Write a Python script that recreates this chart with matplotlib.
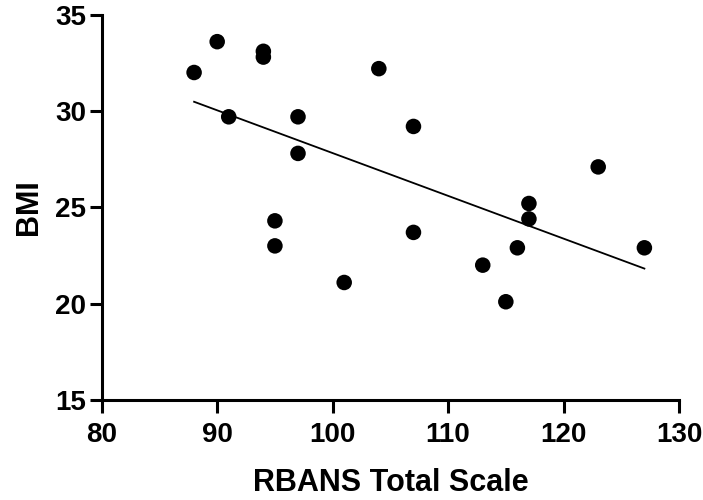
import numpy as np
import matplotlib
matplotlib.use('Agg')
import matplotlib.pyplot as plt

# values
rbans = [88, 90, 91, 94, 94, 95, 95, 97, 97, 101,
         104, 107, 107, 113, 115, 116, 117, 117, 123, 127]
bmi = [32.0, 33.6, 29.7, 33.1, 32.8, 24.3, 23.0, 29.7, 27.8, 21.1,
       32.2, 29.2, 23.7, 22.0, 20.1, 22.9, 25.2, 24.4, 27.1, 22.9]
x_ticks = [80, 90, 100, 110, 120, 130]
y_ticks = [15, 20, 25, 30, 35]

plt.rcParams['font.family'] = ['Liberation Sans', 'DejaVu Sans']
plt.rcParams['font.weight'] = 'bold'

fig = plt.figure(figsize=(7.03, 5), dpi=100)
ax = fig.add_axes([0.1447, 0.2, 0.8212, 0.7706])

x = np.array(rbans, float)
y = np.array(bmi, float)

# linear fit over the data range
slope, icpt = np.polyfit(x, y, 1)
xl = np.array([x.min(), x.max()])
ax.plot(xl, slope * xl + icpt, 'k-', lw=1.3, zorder=2)

ax.scatter(x, y, s=125, c='black', edgecolors='none', zorder=3, clip_on=False)

ax.set_xlim(80, 130)
ax.set_ylim(15, 35)
ax.set_xticks(x_ticks)
ax.set_yticks(y_ticks)

for s in ['top', 'right']:
    ax.spines[s].set_visible(False)
for s in ['left', 'bottom']:
    ax.spines[s].set_linewidth(2.2)

ax.tick_params(axis='both', direction='out', length=9, width=2.2, labelsize=20)
ax.tick_params(axis='y', pad=2)
ax.tick_params(axis='x', pad=7)
for lab in ax.get_xticklabels() + ax.get_yticklabels():
    lab.set_fontweight('bold')

ax.set_xlabel('RBANS Total Scale', fontsize=22, fontweight='bold', labelpad=14)
ax.set_ylabel('BMI', fontsize=22, fontweight='bold', labelpad=8)

fig.savefig('out.png', dpi=100)
